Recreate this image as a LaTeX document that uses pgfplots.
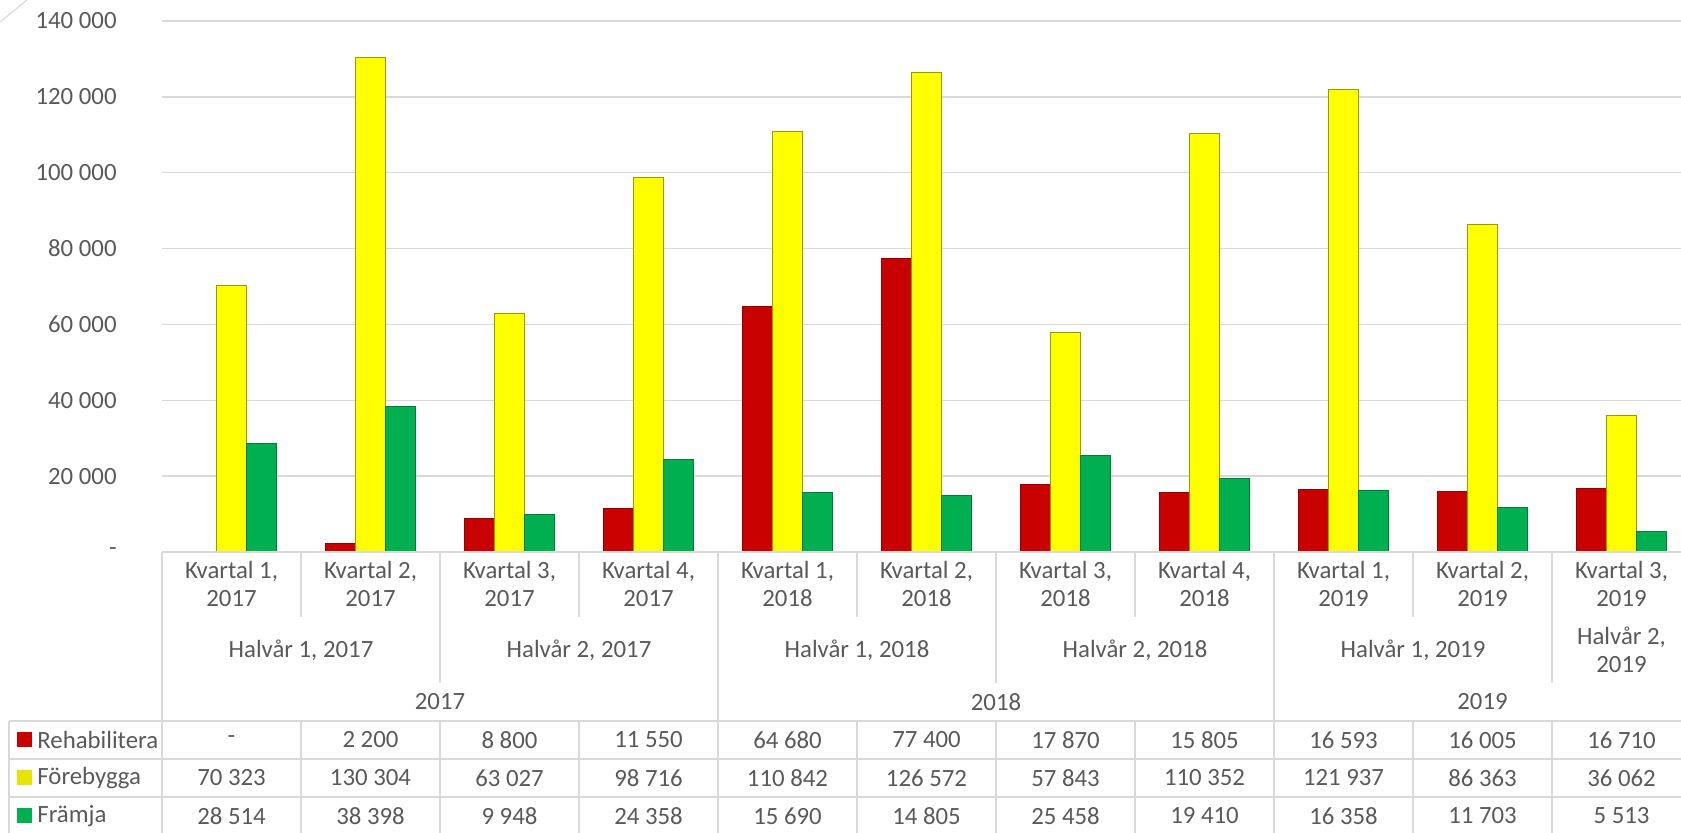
\documentclass[border=0pt]{standalone}
\usepackage{pgfplots}
\pgfplotsset{compat=1.18}
\usepackage{fontspec}
\setmainfont{Carlito}
\definecolor{txt}{HTML}{595959}
\definecolor{grd}{HTML}{D9D9D9}
\definecolor{rred}{HTML}{C80000}
\definecolor{ryel}{HTML}{FFFF00}
\definecolor{rgrn}{HTML}{00B050}
\begin{document}
\begin{tikzpicture}[font=\fontsize{12.4}{14}\selectfont]
\useasboundingbox (-81pt,-140.5pt) rectangle (759.5pt,276pt);
\draw[grd, line width=0.6pt] (-81pt,265pt) -- (-67.5pt,276pt);
\begin{axis}[
  at={(0,0)}, anchor=south west,
  scale only axis, width=759.5pt, height=265.5pt,
  xmin=-0.5, xmax=10.428, ymin=0, ymax=140000,
  ybar=0pt, bar width=15pt,
  axis line style={draw=none},
  scaled y ticks=false,
  ytick={0,20000,40000,60000,80000,100000,120000,140000},
  yticklabels={-\hspace{10pt},20 000,40 000,60 000,80 000,100 000,120 000,140 000},
  ymajorgrids, grid style={grd, line width=0.75pt},
  major tick length=0pt,
  xtick=\empty,
  yticklabel style={inner sep=0pt, anchor=east, xshift=-22.5pt, text=txt, font=\fontsize{12.4}{14}\selectfont},
  clip=false,
]
\addplot[fill=rred, draw=rred!75!black, line width=0.4pt] coordinates {
 (1,2200) (2,8800) (3,11550) (4,64680) (5,77400) (6,17870) (7,15805) (8,16593) (9,16005) (10,16710)};
\addplot[fill=ryel, draw=ryel!60!black, line width=0.4pt] coordinates {
 (0,70323) (1,130304) (2,63027) (3,98716) (4,110842) (5,126572) (6,57843) (7,110352) (8,121937) (9,86363) (10,36062)};
\addplot[fill=rgrn, draw=rgrn!70!black, line width=0.4pt] coordinates {
 (0,28514) (1,38398) (2,9948) (3,24358) (4,15690) (5,14805) (6,25458) (7,19410) (8,16358) (9,11703) (10,5513)};
\end{axis}
% table lines (absolute)
\draw[grd, line width=0.75pt] (0,0) -- (759.5pt,0);
\foreach \yy in {-84.5,-103.5,-122.5} \draw[grd, line width=0.75pt] (-76.5pt,\yy pt) -- (759.5pt,\yy pt);
\draw[grd, line width=0.75pt] (-76.5pt,-84.5pt) -- (-76.5pt,-140.5pt);
% legend keys
\fill[rred] (-72.5pt,-97.75pt) rectangle ++(7.5pt,7.5pt);
\fill[ryel!90!black] (-72.5pt,-116.75pt) rectangle ++(7.5pt,7.5pt);
\fill[rgrn] (-72.5pt,-135.75pt) rectangle ++(7.5pt,7.5pt);
\node[text=txt, anchor=west, inner sep=0pt] at (-62.5pt,-94pt) {Rehabilitera};
\node[text=txt, anchor=west, inner sep=0pt] at (-62.5pt,-113pt) {Förebygga};
\node[text=txt, anchor=west, inner sep=0pt] at (-62.5pt,-132pt) {Främja};
\begin{scope}[shift={(34.75pt,0)}, x=69.5pt, y=1pt]
  \draw[grd, line width=0.75pt] (-0.5,0) -- (-0.5,-140.5);
  \foreach \xx in {0.5,2.5,4.5,6.5,8.5} \draw[grd, line width=0.75pt] (\xx,0) -- (\xx,-32.5);
  \foreach \xx in {1.5,5.5,9.5} \draw[grd, line width=0.75pt] (\xx,0) -- (\xx,-65.5);
  \foreach \xx in {3.5,7.5} \draw[grd, line width=0.75pt] (\xx,0) -- (\xx,-140.5);
  \foreach \xx in {0.5,1.5,2.5,4.5,5.5,6.5,8.5,9.5} \draw[grd, line width=0.75pt] (\xx,-84.5) -- (\xx,-140.5);
  \foreach \q/\yr [count=\i from 0] in {1/2017,2/2017,3/2017,4/2017,1/2018,2/2018,3/2018,4/2018,1/2019,2/2019,3/2019}
    \node[text=txt, align=center, inner sep=0pt] at (\i,-16) {Kvartal \q,\\\yr};
  \node[text=txt, inner sep=0pt] at (0.5,-49) {Halvår 1, 2017};
  \node[text=txt, inner sep=0pt] at (2.5,-49) {Halvår 2, 2017};
  \node[text=txt, inner sep=0pt] at (4.5,-49) {Halvår 1, 2018};
  \node[text=txt, inner sep=0pt] at (6.5,-49) {Halvår 2, 2018};
  \node[text=txt, inner sep=0pt] at (8.5,-49) {Halvår 1, 2019};
  \node[text=txt, inner sep=0pt, align=center] at (10,-49) {Halvår 2,\\2019};
  \node[text=txt, inner sep=0pt] at (1.5,-75) {2017};
  \node[text=txt, inner sep=0pt] at (5.5,-75) {2018};
  \node[text=txt, inner sep=0pt] at (9,-75) {2019};
  \foreach \v [count=\i from 0] in {-,2 200,8 800,11 550,64 680,77 400,17 870,15 805,16 593,16 005,16 710}
    \node[text=txt, inner sep=0pt] at (\i,-94) {\v};
  \foreach \v [count=\i from 0] in {70 323,130 304,63 027,98 716,110 842,126 572,57 843,110 352,121 937,86 363,36 062}
    \node[text=txt, inner sep=0pt] at (\i,-113) {\v};
  \foreach \v [count=\i from 0] in {28 514,38 398,9 948,24 358,15 690,14 805,25 458,19 410,16 358,11 703,5 513}
    \node[text=txt, inner sep=0pt] at (\i,-132) {\v};
\end{scope}
\end{tikzpicture}
\end{document}
